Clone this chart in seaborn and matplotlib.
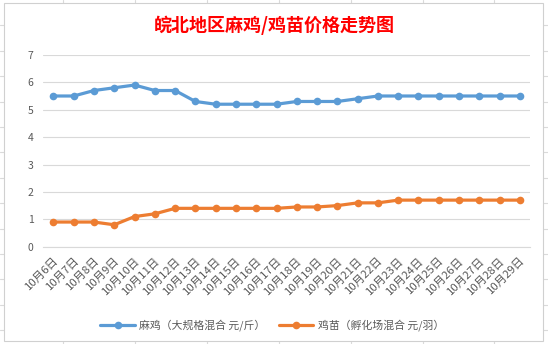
import numpy as np
import pandas as pd
import matplotlib
matplotlib.use("Agg")
import matplotlib.pyplot as plt
from matplotlib.lines import Line2D
from matplotlib.patches import Rectangle
import seaborn as sns

sns.set_style("white")
plt.rcParams['font.family'] = ['Noto Sans CJK SC', 'DejaVu Sans']

dates = ["10月6日", "10月7日", "10月8日", "10月9日", "10月10日", "10月11日", "10月12日",
         "10月13日", "10月14日", "10月15日", "10月16日", "10月17日", "10月18日", "10月19日",
         "10月20日", "10月21日", "10月22日", "10月23日", "10月24日", "10月25日", "10月26日",
         "10月27日", "10月28日", "10月29日"]
maji = [5.5, 5.5, 5.7, 5.8, 5.9, 5.7, 5.7, 5.3, 5.2, 5.2, 5.2, 5.2, 5.3, 5.3, 5.3, 5.4,
        5.5, 5.5, 5.5, 5.5, 5.5, 5.5, 5.5, 5.5]
jimiao = [0.9, 0.9, 0.9, 0.8, 1.1, 1.2, 1.4, 1.4, 1.4, 1.4, 1.4, 1.4, 1.45, 1.45, 1.5,
          1.6, 1.6, 1.7, 1.7, 1.7, 1.7, 1.7, 1.7, 1.7]
series_names = ["麻鸡（大规格混合 元/斤）", "鸡苗（孵化场混合 元/羽）"]
title = "皖北地区麻鸡/鸡苗价格走势图"
yticks = [0, 1, 2, 3, 4, 5, 6, 7]

df = pd.DataFrame({
    "date": dates * 2,
    "price": maji + jimiao,
    "series": [series_names[0]] * len(dates) + [series_names[1]] * len(dates),
})

W, H = 548, 344
fig = plt.figure(figsize=(W / 100, H / 100), dpi=100)

# spreadsheet grid behind the chart
gcol = "#DADADA"
for k in range(8):
    x = 63 + 71.9 * k
    fig.add_artist(Line2D([x / W, x / W], [0, 1], color=gcol, lw=0.8, zorder=0))
for k in range(1, 14):
    y = 25.4 * k
    fig.add_artist(Line2D([0, 1], [1 - y / H, 1 - y / H], color=gcol, lw=0.8, zorder=0))
# chart area
fig.add_artist(Rectangle((4 / W, 1 - 341 / H), (543 - 4) / W, (341 - 3) / H,
                         facecolor="white", edgecolor="#D0D0D0", lw=0.8, zorder=1))

left, right, top, bottom = 43.3, 530, 54.9, 246.7
ax = fig.add_axes([left / W, 1 - bottom / H, (right - left) / W, (bottom - top) / H], zorder=2)
ax.patch.set_alpha(0)

palette = {series_names[0]: "#5B9BD5", series_names[1]: "#ED7D31"}
sns.lineplot(data=df, x="date", y="price", hue="series", palette=palette, sort=False,
             marker="o", markersize=5.5, markeredgewidth=0, linewidth=2.3, ax=ax,
             legend=False, zorder=3)

ax.set_ylim(0, 7)
ax.set_xlim(-0.5, len(dates) - 0.5)
ax.set_yticks(yticks)
ax.set_xlabel("")
ax.set_ylabel("")
ax.yaxis.grid(True, color="#D9D9D9", lw=0.8)
ax.set_axisbelow(True)
for s in ["top", "right", "left"]:
    ax.spines[s].set_visible(False)
ax.spines["bottom"].set_color("#D9D9D9")
ax.spines["bottom"].set_linewidth(0.8)
ax.tick_params(axis="y", length=0, pad=7, labelsize=7.5, labelcolor="#595959")
ax.set_xticks(np.arange(len(dates)))
ax.set_xticklabels(dates, rotation=45, ha="right", va="top", rotation_mode="anchor",
                   fontsize=8.2, color="#595959")
ax.tick_params(axis="x", length=0, pad=6)
# category boundary ticks
ax.set_xticks(np.arange(len(dates) + 1) - 0.5, minor=True)
ax.tick_params(axis="x", which="minor", length=3.5, color="#D9D9D9", width=0.8, direction="out")

fig.text(0.5 * (149 + 400) / W, 1 - 25 / H, title, color="#FF0000", fontsize=13,
         fontweight="bold", ha="center", va="center")

handles = [Line2D([], [], color=palette[n], lw=2.3, marker="o", markersize=5.5,
                  markeredgewidth=0) for n in series_names]
fig.legend(handles, series_names, loc="center", bbox_to_anchor=(272 / W, 1 - 325 / H),
           ncol=2, frameon=False, fontsize=7.8, labelcolor="#595959",
           handlelength=3.2, columnspacing=1.2, handletextpad=0.4)

fig.savefig("out.png", dpi=100)
